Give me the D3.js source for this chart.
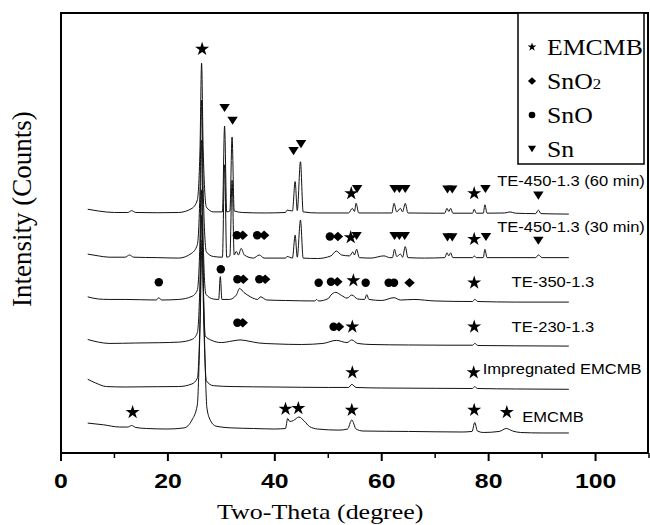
<!DOCTYPE html>
<html>
<head>
<meta charset="utf-8">
<script src="https://cdn.jsdelivr.net/npm/d3@7"></script>
<style>
  body { margin: 0; background: #fff; }
  svg { display: block; }
</style>
</head>
<body>
<div id="chart"></div>
<script>
// ---- data: [two-theta, intensity (offset, arb. units)] ----
const emcmb = [[5,6.8],[8,6.4],[11,5.9],[12.5,5.9],[13.2,6.25],[14,5.8],[16,5.57],[20,5.45],[23,5.7],
  [24.5,7.5],[25.5,10.9],[26.0,28],[26.4,48.4],[26.8,28],[27.3,10.2],[28,7.3],[29,6.1],[32,5.7],[36,5.57],
  [40,5.45],[42,5.57],[42.4,7.84],[42.8,7.16],[43.5,7.39],[44.5,8.18],[45.5,7.27],[46.5,6.0],[48,5.45],
  [52,5.2],[53.6,5.45],[54.4,7.5],[55.2,5.45],[56.5,5.0],[65,4.9],[75,4.77],[76.9,4.9],[77.4,6.93],
  [77.9,5.0],[79,4.66],[82,4.9],[83.3,5.57],[84.5,5.0],[86,4.66],[90,4.55],[95,4.55]];

const impregnated = [[5,16.75],[6.5,15.9],[8.5,15.1],[12,15.0],[18,15.07],[22,15.1],[24.5,15.7],[25.5,17.0],
  [26.0,30.2],[26.3,54],[26.7,30.2],[27.2,16.4],[28.5,15.3],[32,15.1],[40,15.0],[50,14.9],[53.8,14.9],
  [54.4,15.6],[55.2,14.9],[60,14.77],[70,14.7],[77,14.66],[77.4,15.1],[77.9,14.66],[85,14.55],[95,14.48]];

const te230 = [[5,25.8],[7,25.2],[9,24.9],[14,25.0],[18.5,25.07],[22,25.2],[24.5,25.8],[25.5,27.3],
  [26.0,39.3],[26.3,59.8],[26.6,39.3],[27.0,26.6],[28,25.7],[30,25.1],[32,25.45],[33.5,25.7],[35,25.45],
  [37,25.0],[40,24.8],[45,24.66],[49,24.9],[51.5,25.6],[53.5,25.1],[54.4,25.7],[55.5,24.9],[58,24.66],
  [65,24.55],[72,24.5],[77,24.5],[77.4,24.9],[78,24.43],[85,24.36],[95,24.3]];

const te350 = [[5,35.5],[7,35.0],[9,34.9],[12,34.9],[17.8,34.77],[18.3,35.3],[18.8,34.77],[22,34.9],
  [24.5,35.6],[25.5,37.0],[26.0,48.4],[26.3,71.1],[26.6,48.4],[27.1,36.1],[28.5,35.0],[29.5,34.9],
  [29.8,40.1],[30.1,34.9],[31.5,34.9],[32.8,35.9],[33.4,37.4],[34.2,36.5],[35.5,35.45],[36.8,34.9],
  [37.3,35.5],[38.5,34.77],[42,34.66],[47.5,34.55],[47.8,34.9],[48.2,34.55],[50,35.1],[50.5,35.9],
  [51.4,36.5],[52.5,35.8],[53.5,35.2],[54.4,35.9],[55.5,35.0],[56.8,34.9],[57.2,36.0],[57.6,34.9],
  [60,34.66],[62.3,35.3],[63.5,34.77],[66,34.9],[70,34.55],[77,34.43],[77.4,34.93],[78,34.43],
  [85,34.3],[95,34.3]];

const te450_30 = [[5,45.2],[7,44.8],[9,44.5],[12,44.5],[12.8,45.0],[13.6,44.5],[18,44.4],[22,44.3],
  [24.5,45.45],[25.5,47.3],[26.0,59.8],[26.3,80.2],[26.6,59.8],[27.2,45.7],[28.5,44.66],[30.2,44.5],
  [30.6,65.5],[31.0,44.5],[31.6,44.8],[32.0,62],[32.4,45.0],[32.8,45.8],[33.2,45.0],[33.7,46.5],
  [34.3,45.0],[36,44.3],[37.1,45.0],[38,44.3],[42,44.3],[42.3,44.66],[43.3,44.3],[43.8,49.5],[44.2,44.5],
  [44.8,52.95],[45.3,44.3],[48,44.2],[50.5,44.8],[51.5,45.9],[52.5,45.0],[54,44.8],[54.6,45.7],
  [54.9,45.0],[55.3,46.3],[55.8,44.4],[58,44.3],[60.4,44.8],[61.5,44.4],[62.0,44.4],[62.4,46.3],
  [62.8,44.66],[63.5,45.2],[63.9,44.5],[64.4,46.9],[64.9,44.4],[68,44.3],[71.8,44.4],[72.2,45.5],
  [72.55,44.8],[72.9,45.5],[73.3,44.4],[77.0,44.4],[77.3,44.8],[77.7,44.4],[79.0,44.4],[79.3,46.3],
  [79.7,44.4],[84,44.4],[88.8,44.4],[89.3,45.0],[90,44.4],[95,44.4]];

const te450_60 = [[5,55.4],[7,55.0],[10,54.66],[12.5,54.66],[13.2,55.07],[14,54.66],[18,54.6],[22,54.66],
  [24.5,55.6],[25.5,57.5],[26.0,68.9],[26.3,88.6],[26.6,68.9],[27.2,55.9],[28.5,54.8],[30.2,54.8],
  [30.6,74.3],[31.0,54.8],[31.6,55.0],[32.0,71.8],[32.4,55.0],[34,54.66],[38,54.55],[42.0,54.66],
  [42.3,55.2],[43.3,55.0],[43.8,61.7],[44.2,55.1],[44.8,66.2],[45.3,54.8],[48,54.55],[53.8,54.55],
  [54.5,55.6],[54.9,54.9],[55.2,56.75],[55.7,54.55],[60,54.55],[61.9,54.55],[62.3,56.75],[62.8,54.8],
  [63.5,55.6],[63.9,54.8],[64.4,56.75],[64.9,54.55],[70,54.5],[71.8,54.5],[72.2,55.6],[72.55,54.9],
  [72.9,55.6],[73.3,54.5],[77.0,54.5],[77.3,55.4],[77.7,54.5],[79.0,54.5],[79.3,56.4],[79.7,54.5],
  [83,54.55],[84,54.8],[85,54.5],[88.8,54.4],[89.3,55.2],[89.8,54.4],[95,54.3]];

const traces = [emcmb, impregnated, te230, te350, te450_30, te450_60];

// sample names and where they sit [two-theta, intensity]
const sampleNames = ["EMCMB", "Impregnated EMCMB", "TE-230-1.3", "TE-350-1.3",
  "TE-450-1.3 (30 min)", "TE-450-1.3 (60 min)"];
const sampleLabelPos = [[86.3,7.05],[78.9,17.95],[84.3,27.6],[84.3,37.7],[81.6,50.3],[81.6,60.7]];

// phase markers: [phase, two-theta, intensity]
const peakMarks = [
  // EMCMB
  ["star",13.4,9.25],["star",42.0,10.0],["star",44.4,10.16],["star",54.4,9.77],["star",77.3,9.77],["star",83.4,9.25],
  // impregnated
  ["star",54.5,18.3],["star",77.2,18.3],
  // TE-230
  ["dot",33.0,29.6],["diamond",34.0,29.6],["dot",51.0,28.7],["diamond",52.0,28.7],["star",54.5,28.7],["star",77.3,28.7],
  // TE-350
  ["dot",18.3,38.8],["dot",29.9,41.75],["dot",33.0,39.5],["diamond",34.1,39.5],["dot",37.1,39.5],["diamond",38.2,39.5],
  ["dot",48.2,38.7],["dot",50.5,38.9],["diamond",51.7,38.9],["star",54.7,39.2],["dot",57.0,38.7],["dot",61.3,38.7],
  ["dot",62.3,38.7],["diamond",65.2,38.7],["star",77.3,38.7],
  // TE-450 30 min
  ["dot",32.9,49.5],["diamond",34.0,49.5],["dot",36.7,49.5],["diamond",38.0,49.5],["dot",50.3,49.2],["diamond",51.8,49.2],
  ["star",54.2,49.0],["tri",55.3,49.3],["tri",62.4,49.3],["tri",63.3,49.3],["tri",64.3,49.3],["tri",72.3,49.0],
  ["tri",73.2,49.0],["star",77.3,48.6],["tri",79.5,49.1],["tri",89.3,48.25],
  // TE-450 60 min
  ["star",26.4,91.8],["tri",30.6,78.4],["tri",32.1,75.5],["tri",43.5,68.6],["tri",44.9,70.2],["star",54.3,59.0],
  ["tri",55.4,60.0],["tri",62.4,60.0],["tri",63.3,60.0],["tri",64.4,60.0],["tri",72.3,59.9],["tri",73.2,59.9],
  ["star",77.3,59.0],["tri",79.4,60.0],["tri",89.3,58.5]
];

const legendPhases = ["star", "diamond", "dot", "tri"];
const legendNames = ["EMCMB", "SnO", "SnO", "Sn"];
const legendSubs = ["", "2", "", ""];

const xTicks = [0, 20, 40, 60, 80, 100];

// ---- layout ----
const W = 650, H = 525;
const margin = {top: 13, right: 1, bottom: 72, left: 61};
const width = W - margin.left - margin.right,
      height = H - margin.top - margin.bottom;
const stretch = 1.18; // the original figure is widened a bit
const sans = "'Liberation Sans', Arial, sans-serif";
const serif = "'Liberation Serif', 'Times New Roman', serif";

const svg = d3.select("#chart").append("svg")
  .attr("width", W).attr("height", H);

const g = svg.append("g").attr("transform", `translate(${margin.left},${margin.top})`);

const x = d3.scaleLinear().domain([0, 110]).range([0, width]);
const y = d3.scaleLinear().domain([0, 100]).range([height, 0]);

// frame
g.append("rect")
  .attr("x", 0).attr("y", 0)
  .attr("width", width - 1).attr("height", height)
  .attr("fill", "none").attr("stroke", "#000").attr("stroke-width", 2);

// traces
const line = d3.line()
  .x(d => x(d[0]))
  .y(d => y(d[1]))
  .curve(d3.curveMonotoneX);

g.selectAll(".trace")
  .data(traces)
  .enter().append("path")
  .attr("class", "trace")
  .attr("d", line)
  .attr("fill", "none")
  .attr("stroke", "#111")
  .attr("stroke-width", 1);

// marker shapes, s ~ width in px
function shape(type, s) {
  if (type === "star") return d3.symbol(d3.symbolStar, s * s * 0.42)();
  if (type === "dot") return d3.symbol(d3.symbolCircle, s * s * 0.62)();
  if (type === "diamond") {
    const a = s * 0.55, b = s * 0.5;
    return `M${-a},0L0,${-b}L${a},0L0,${b}Z`;
  }
  // down triangle
  const a = s * 0.55, h = s * 0.85;
  return `M${-a},${-h / 2}L${a},${-h / 2}L0,${h / 2}Z`;
}

g.selectAll(".mark")
  .data(peakMarks)
  .enter().append("path")
  .attr("class", "mark")
  .attr("transform", d => `translate(${x(d[1])},${y(d[2])})`)
  .attr("d", d => shape(d[0], d[0] === "star" ? 12 : 9.5))
  .attr("fill", "#000");

// sample labels
g.selectAll(".sample")
  .data(sampleNames)
  .enter().append("text")
  .attr("class", "sample")
  .attr("transform", (d, i) => `translate(${x(sampleLabelPos[i][0])},${y(sampleLabelPos[i][1])}) scale(${stretch},1)`)
  .style("font-family", sans)
  .style("font-size", "14px")
  .text(d => d);

// x axis
const xAxis = g.append("g")
  .attr("transform", `translate(0,${height})`);
xAxis.append("line")
  .attr("x1", 0).attr("x2", width).attr("stroke", "#000").attr("stroke-width", 2);
xAxis.selectAll(".minor")
  .data(d3.range(10, 111, 20))
  .enter().append("line")
  .attr("x1", d => x(d)).attr("x2", d => x(d))
  .attr("y1", 0).attr("y2", 5)
  .attr("stroke", "#000").attr("stroke-width", 1.5);
xAxis.selectAll(".major")
  .data(xTicks)
  .enter().append("line")
  .attr("x1", d => x(d)).attr("x2", d => x(d))
  .attr("y1", 0).attr("y2", 8)
  .attr("stroke", "#000").attr("stroke-width", 2);
xAxis.selectAll(".tl")
  .data(xTicks)
  .enter().append("text")
  .attr("transform", d => `translate(${x(d)},35) scale(${stretch},1)`)
  .attr("text-anchor", "middle")
  .style("font-family", sans)
  .style("font-size", "21px")
  .style("font-weight", "bold")
  .text(d => d);

// axis titles
svg.append("text")
  .attr("transform", `translate(${margin.left + x(48.5)},519) scale(${stretch},1)`)
  .attr("text-anchor", "middle")
  .style("font-family", serif)
  .style("font-size", "22px")
  .text("Two-Theta (degree)");

svg.append("text")
  .attr("transform", `translate(31,209) rotate(-90)`)
  .attr("text-anchor", "middle")
  .style("font-family", serif)
  .style("font-size", "27px")
  .text("Intensity (Counts)");

// legend
const lg = svg.append("g").attr("transform", "translate(518,13)");
lg.append("rect")
  .attr("width", 126).attr("height", 151)
  .attr("fill", "#fff").attr("stroke", "#000").attr("stroke-width", 1.5);
legendPhases.forEach((p, i) => {
  const cy = 34 + i * 34;
  lg.append("path")
    .attr("transform", `translate(14,${cy})`)
    .attr("d", shape(p, 7.5))
    .attr("fill", "#000");
  const t = lg.append("text")
    .attr("transform", `translate(29,${cy + 8}) scale(1.12,1)`)
    .style("font-family", serif)
    .style("font-size", "23px")
    .text(legendNames[i]);
  if (legendSubs[i]) t.append("tspan").style("font-size", "15px").text(legendSubs[i]);
});
</script>
</body>
</html>
